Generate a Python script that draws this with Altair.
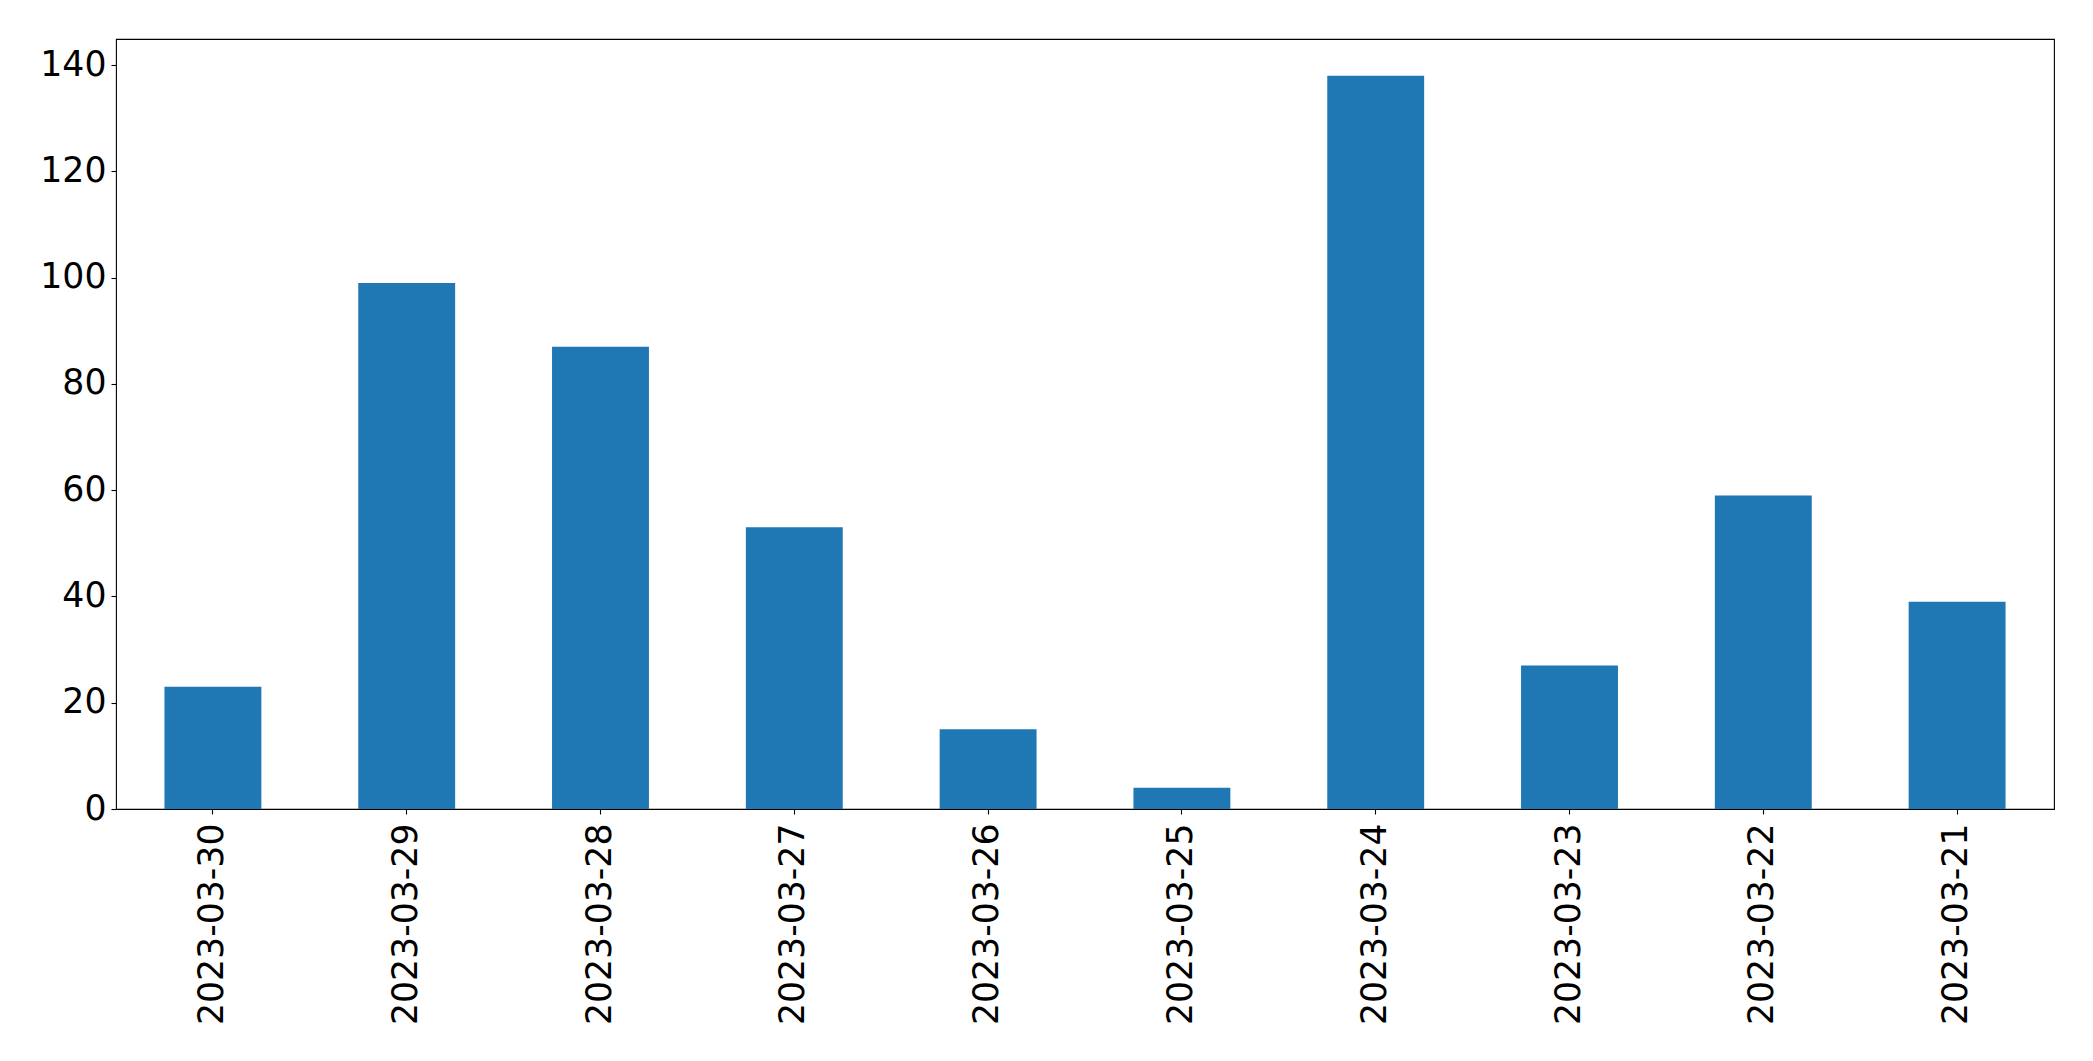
import altair as alt
import pandas as pd

dates = ["2023-03-30", "2023-03-29", "2023-03-28", "2023-03-27", "2023-03-26",
         "2023-03-25", "2023-03-24", "2023-03-23", "2023-03-22", "2023-03-21"]
counts = [23, 99, 87, 53, 15, 4, 138, 27, 59, 39]
y_ticks = [0, 20, 40, 60, 80, 100, 120, 140]

df = pd.DataFrame({"date": dates, "count": counts})

FONT = "DejaVu Sans"
FS = 34.7

chart = alt.Chart(df).mark_bar(color="#1f77b4").encode(
    x=alt.X("date:N", sort=dates,
            scale=alt.Scale(paddingInner=0.5, paddingOuter=0.25),
            axis=alt.Axis(title=None, labelAngle=270, labelFont=FONT, labelFontSize=FS,
                          labelColor="black", tickColor="black", tickSize=5, tickWidth=1.1,
                          labelPadding=9, labelLimit=1000, domain=False, grid=False)),
    y=alt.Y("count:Q", scale=alt.Scale(domain=[0, 144.9], nice=False, zero=True),
            axis=alt.Axis(title=None, values=y_ticks, labelFont=FONT, labelFontSize=FS,
                          labelColor="black", tickColor="black", tickSize=5, tickWidth=1.1,
                          labelPadding=5, labelLimit=1000, domain=False, grid=False)),
).properties(
    width=1938, height=770,
    autosize=alt.AutoSizeParams(type="none"),
    padding={"left": 108, "top": 31, "right": 10, "bottom": 235},
).configure_view(stroke="black", strokeWidth=1.1)

chart.save("out.html", embed_options={"renderer": "svg", "actions": False})
